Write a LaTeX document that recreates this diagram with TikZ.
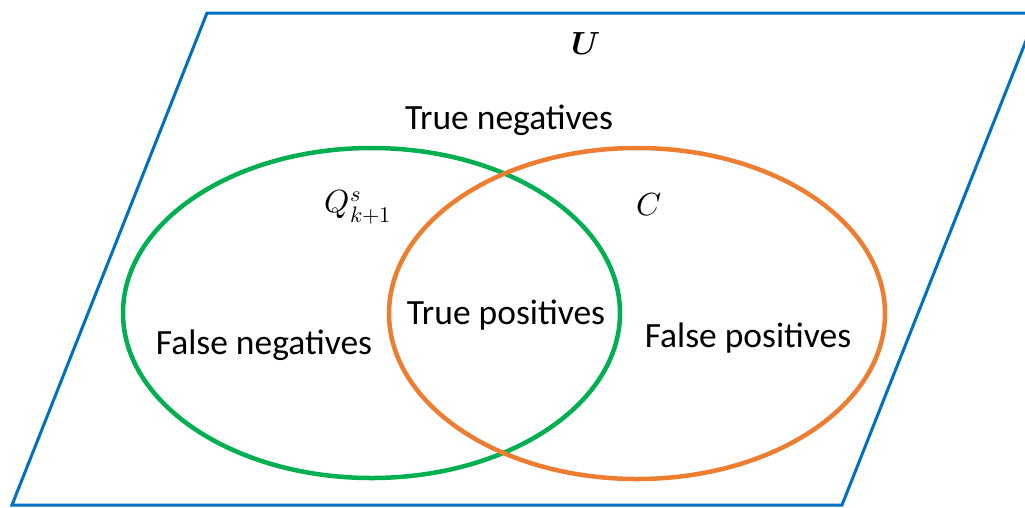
\documentclass[tikz,border=0pt]{standalone}
\usepackage{fontspec}
\usepackage{unicode-math}
\newfontfamily\calib{Carlito}
\definecolor{ublue}{RGB}{0,112,192}
\definecolor{sgreen}{RGB}{0,176,80}
\definecolor{corange}{RGB}{237,125,49}
\begin{document}
\begin{tikzpicture}[x=1pt,y=-1pt,
  lbl/.style={font=\calib\fontsize{35.5}{40}\selectfont, inner sep=0pt},
  mlbl/.style={font=\fontsize{32}{36}\selectfont, inner sep=0pt},
  setline/.style={line width=4.5pt}]
\useasboundingbox (0,0) rectangle (1025,507);
\begin{scope}
\clip (0,0) rectangle (1025,507);
\draw[ublue, line width=3pt] (207,13) -- (1037,13) -- (842,505) -- (12,505) -- cycle;
\end{scope}
\draw[sgreen, setline] (371.5,313) ellipse [x radius=248.5, y radius=165];
\draw[corange, setline] (637,313.5) ellipse [x radius=248, y radius=165.5];
\node[mlbl] (u) at (586,44) {$\symbfit{U}$};
\node[lbl] (tn) at (509,120) {True negatives};
\node[mlbl] (q) at (358,207) {$Q^{s}_{k+1}$};
\node[mlbl] (c) at (649,205) {$C$};
\node[lbl] (tp) at (506,315) {True positives};
\node[lbl] (fn) at (264,345) {False negatives};
\node[lbl] (fp) at (748,338) {False positives};
\end{tikzpicture}
\end{document}
